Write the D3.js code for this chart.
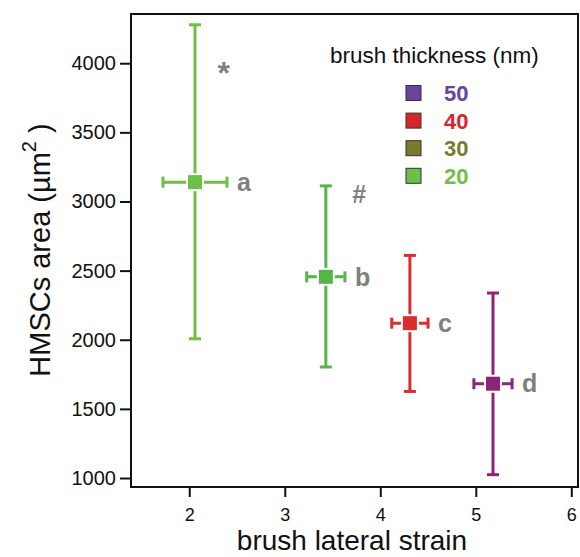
<!DOCTYPE html>
<html>
<head>
<meta charset="utf-8">
<script src="https://cdn.jsdelivr.net/npm/d3@7"></script>
<style>
  body { margin: 0; background: #fff; }
  svg { display: block; font-family: "Liberation Sans", Arial, sans-serif; }
</style>
</head>
<body>
<div id="chart"></div>
<script>
// Datos
const labels = ['a', 'b', 'c', 'd'];
const strain = [2.06, 3.43, 4.31, 5.18];
const strainErr = [0.335, 0.2, 0.19, 0.2];
const area = [3140, 2455, 2120, 1682];
const areaLow = [2007, 1803, 1626, 1024];
const areaHigh = [4278, 3113, 2610, 2338];
const pointColors = ['#6cbf47', '#55b548', '#dd2c2a', '#8e2479'];

// Marcas de significancia
const signifText = ['*', '#'];
const signifX = [2.36, 3.78];
const signifY = [4046, 3049];

// Leyenda
const thickness = ['50', '40', '30', '20'];
const thicknessColors = ['#6a42a0', '#d7262a', '#7d7a2a', '#6cbf47'];

const xTicks = [2, 3, 4, 5, 6];
const yTicks = [1000, 1500, 2000, 2500, 3000, 3500, 4000];

const width = 580, height = 557;
const margin = { top: 14, right: 2, bottom: 70, left: 131 };

const svg = d3.select('#chart')
  .append('svg')
  .attr('width', width)
  .attr('height', height);

const x = d3.scaleLinear()
  .domain([1.39, 6.07])
  .range([margin.left, width - margin.right]);

const y = d3.scaleLinear()
  .domain([935, 4356])
  .range([height - margin.bottom, margin.top]);

// Ejes
const xAxis = svg.append('g')
  .attr('transform', `translate(0,${height - margin.bottom})`)
  .call(d3.axisBottom(x).tickValues(xTicks).tickSize(10).tickPadding(11).tickFormat(d3.format('d')));

const yAxis = svg.append('g')
  .attr('transform', `translate(${margin.left},0)`)
  .call(d3.axisLeft(y).tickValues(yTicks).tickSize(11).tickPadding(4).tickFormat(d3.format('d')));

[[xAxis, 18], [yAxis, 20]].forEach(([g, fs]) => {
  g.attr('font-size', fs).attr('font-family', '"Liberation Sans", Arial, sans-serif');
  g.select('.domain').remove();
  g.selectAll('.tick line').attr('stroke', '#111').attr('stroke-width', 2);
  g.selectAll('.tick text')
    .attr('font-size', fs)
    .style('font-size', fs + 'px')
    .attr('fill', '#111');
});

// Marco
svg.append('rect')
  .attr('x', margin.left)
  .attr('y', margin.top)
  .attr('width', width - margin.right - margin.left)
  .attr('height', height - margin.bottom - margin.top)
  .attr('fill', 'none')
  .attr('stroke', '#111')
  .attr('stroke-width', 2);

// Títulos
svg.append('text')
  .attr('x', 352)
  .attr('y', 550)
  .attr('text-anchor', 'middle')
  .attr('font-size', 28)
  .attr('fill', '#111')
  .text('brush lateral strain');

const yTitle = svg.append('text')
  .attr('transform', 'translate(50,250) rotate(-90)')
  .attr('text-anchor', 'middle')
  .attr('font-size', 29)
  .attr('fill', '#111');
yTitle.append('tspan').text('HMSCs area (µm');
yTitle.append('tspan').attr('font-size', 20).attr('dy', -14).text('2');
yTitle.append('tspan').attr('dy', 14).text(' )');

// Barras de error y puntos
const idx = d3.range(strain.length);
const capV = 6, capH = 5.5;

const pts = svg.append('g').selectAll('g')
  .data(idx)
  .join('g')
  .attr('stroke', i => pointColors[i])
  .attr('stroke-width', 3);

pts.append('line')
  .attr('x1', i => x(strain[i])).attr('x2', i => x(strain[i]))
  .attr('y1', i => y(areaLow[i])).attr('y2', i => y(areaHigh[i]));
pts.append('line')
  .attr('x1', i => x(strain[i]) - capV).attr('x2', i => x(strain[i]) + capV)
  .attr('y1', i => y(areaHigh[i])).attr('y2', i => y(areaHigh[i]));
pts.append('line')
  .attr('x1', i => x(strain[i]) - capV).attr('x2', i => x(strain[i]) + capV)
  .attr('y1', i => y(areaLow[i])).attr('y2', i => y(areaLow[i]));

pts.append('line')
  .attr('x1', i => x(strain[i] - strainErr[i])).attr('x2', i => x(strain[i] + strainErr[i]))
  .attr('y1', i => y(area[i])).attr('y2', i => y(area[i]));
pts.append('line')
  .attr('x1', i => x(strain[i] - strainErr[i])).attr('x2', i => x(strain[i] - strainErr[i]))
  .attr('y1', i => y(area[i]) - capH).attr('y2', i => y(area[i]) + capH);
pts.append('line')
  .attr('x1', i => x(strain[i] + strainErr[i])).attr('x2', i => x(strain[i] + strainErr[i]))
  .attr('y1', i => y(area[i]) - capH).attr('y2', i => y(area[i]) + capH);

pts.append('rect')
  .attr('x', i => x(strain[i]) - 8)
  .attr('y', i => y(area[i]) - 8)
  .attr('width', 16)
  .attr('height', 16)
  .attr('fill', i => pointColors[i])
  .attr('stroke', '#fff')
  .attr('stroke-width', 2);

// Letras
svg.append('g').selectAll('text')
  .data(idx)
  .join('text')
  .attr('x', i => x(strain[i] + strainErr[i]) + 10)
  .attr('y', i => y(area[i]))
  .attr('dy', '0.35em')
  .attr('font-size', 25)
  .attr('font-weight', 'bold')
  .attr('fill', '#7f7f7f')
  .text(i => labels[i]);

svg.append('g').selectAll('text')
  .data(signifText)
  .join('text')
  .attr('x', (d, i) => x(signifX[i]))
  .attr('y', (d, i) => y(signifY[i]))
  .attr('dy', (d, i) => i === 0 ? '0.85em' : '0.35em')
  .attr('text-anchor', 'middle')
  .attr('font-size', (d, i) => i === 0 ? 32 : 25)
  .attr('font-weight', 'bold')
  .attr('fill', '#7f7f7f')
  .text(d => d);

// Leyenda
svg.append('text')
  .attr('x', 330)
  .attr('y', 63)
  .attr('font-size', 22.5)
  .attr('fill', '#111')
  .text('brush thickness (nm)');

const leg = svg.append('g').selectAll('g')
  .data(thickness)
  .join('g')
  .attr('transform', (d, i) => `translate(406,${93 + i * 27.6})`);

leg.append('rect')
  .attr('x', 0).attr('y', -7.5)
  .attr('width', 15).attr('height', 15)
  .attr('fill', (d, i) => thicknessColors[i])
  .attr('stroke', '#333')
  .attr('stroke-width', 1);

leg.append('text')
  .attr('x', 38)
  .attr('dy', '0.36em')
  .attr('font-size', 22)
  .attr('font-weight', 'bold')
  .attr('fill', (d, i) => thicknessColors[i])
  .text(d => d);
</script>
</body>
</html>
